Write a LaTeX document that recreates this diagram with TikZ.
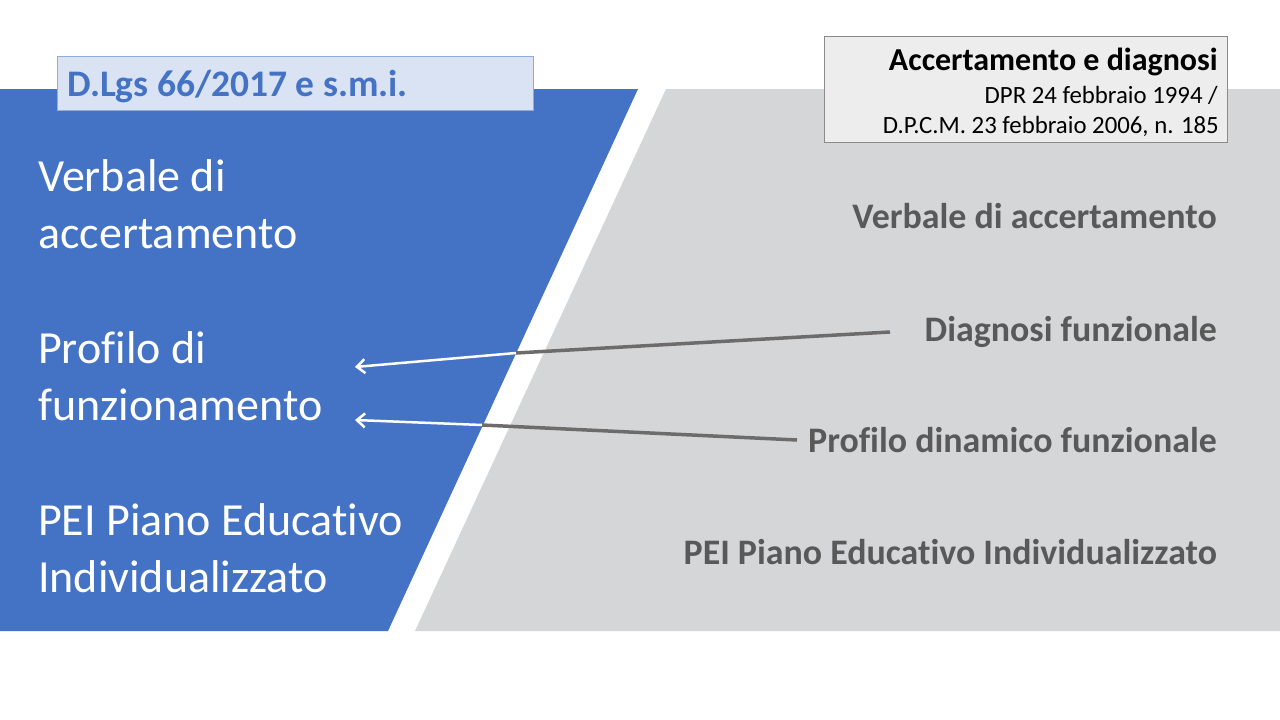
\documentclass[tikz,border=0pt]{standalone}
\usepackage{fontspec}
\setmainfont{Carlito}[Ligatures=NoCommon]
\definecolor{blueP}{HTML}{4472C4}
\definecolor{grayP}{HTML}{D5D6D8}
\definecolor{boxblue}{HTML}{DAE3F3}
\definecolor{boxblueB}{HTML}{8FAADC}
\definecolor{txtgray}{HTML}{595959}
\definecolor{linegray}{HTML}{6E6B6B}
\definecolor{boxgray}{HTML}{EDEDED}
\tikzset{
  lefttxt/.style={anchor=base west, text=white, font=\fontsize{46}{57}\selectfont, align=left, inner sep=0pt},
  righttxt/.style={anchor=base east, text=txtgray, font=\fontsize{35.9}{40}\selectfont\bfseries, inner sep=0pt},
  grayline/.style={draw=linegray, line width=3.5pt},
  whitearrow/.style={draw=white, line width=2.5pt, -{Straight Barb[length=8pt,width=14pt]}},
}
\usetikzlibrary{arrows.meta}
\begin{document}
\begin{tikzpicture}[x=1pt,y=-1pt]
\useasboundingbox (0,0) rectangle (1280,720);
\fill[white] (0,0) rectangle (1280,720);
% panels
\fill[blueP] (0,89) -- (638,89) -- (388,631) -- (0,631) -- cycle;
\fill[grayP] (666,89) -- (1280,89) -- (1280,631) -- (415,631) -- cycle;
% left box
\node[draw=boxblueB, fill=boxblue, line width=1pt, minimum width=476pt, minimum height=54pt, anchor=north west, inner sep=0pt] (lbox) at (57,56) {};
\node[anchor=base west, text=blueP, font=\fontsize{37.5}{42}\selectfont\bfseries, inner sep=0pt] (ltitle) at (67,96) {D.Lgs 66/2017 e s.m.i.};
% right box
\node[draw=linegray!80, fill=boxgray, line width=1pt, minimum width=403pt, minimum height=106pt, anchor=north west, inner sep=0pt] (rbox) at (824,36) {};
\node[anchor=base east, font=\fontsize{32}{36}\selectfont\bfseries, inner sep=0pt] (rtitle) at (1218,70) {Accertamento e diagnosi};
\node[anchor=base east, font=\fontsize{24.8}{28}\selectfont, inner sep=0pt] (rl1) at (1218,103) {DPR 24 febbraio 1994 /};
\node[anchor=base east, font=\fontsize{24.8}{28}\selectfont, inner sep=0pt] (rl2) at (1219,133) {D.P.C.M. 23 febbraio 2006, n. 185};
% left texts
\node[lefttxt] (l1) at (38,248) {Verbale di\\accertamento};
\node[lefttxt] (l2) at (38,420) {Profilo di\\funzionamento};
\node[lefttxt] (l3) at (38,592) {PEI Piano Educativo\\Individualizzato};
% right texts
\node[righttxt] (r1) at (1217,228.5) {Verbale di accertamento};
\node[righttxt] (r2) at (1217,341.5) {Diagnosi funzionale};
\node[righttxt] (r3) at (1217,452.5) {Profilo dinamico funzionale};
\node[righttxt] (r4) at (1217,564.5) {PEI Piano Educativo Individualizzato};
% connectors
\coordinate (a1s) at (890,332);
\coordinate (a1m) at (516,353);
\coordinate (a1e) at (355,367);
\coordinate (a2s) at (797,440);
\coordinate (a2m) at (482,425);
\coordinate (a2e) at (355,420);
\draw[grayline] (a1s) -- (a1m);
\draw[whitearrow] (a1m) -- (a1e);
\draw[grayline] (a2s) -- (a2m);
\draw[whitearrow] (a2m) -- (a2e);
\end{tikzpicture}
\end{document}
